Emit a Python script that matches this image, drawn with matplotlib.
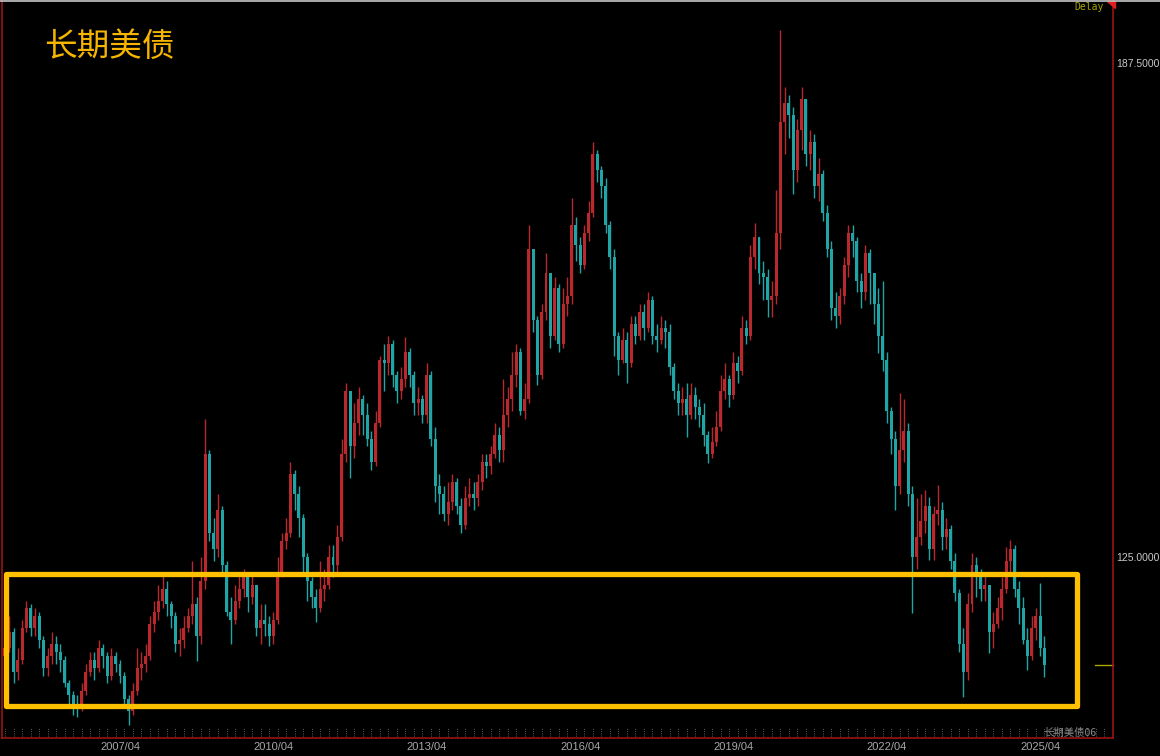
import matplotlib
matplotlib.use('Agg')
import matplotlib.pyplot as plt
import numpy as np
from matplotlib.patches import Rectangle, Polygon
from matplotlib.lines import Line2D
import matplotlib.transforms as mtransforms

plt.rcParams['font.family'] = ['Noto Sans CJK SC', 'DejaVu Sans']

# Monthly candles, 2005/01 .. 2025/05 (open = previous close)
first_open = 112.5
closes = [
    113.5, 115.5, 110.5, 112.0, 116.0, 118.5, 116.0, 117.5, 114.5, 111.0, 112.5, 114.0,  # 2005
    113.0, 112.0, 109.0, 107.5, 106.0, 105.8, 108.0, 110.5, 112.0, 111.0, 113.5, 112.5,  # 2006
    110.0, 112.5, 111.5, 110.0, 107.0, 105.5, 108.0, 111.0, 111.5, 112.5, 116.5, 118.0,  # 2007
    119.5, 121.0, 119.0, 117.5, 114.0, 114.5, 116.0, 117.5, 119.0, 115.0, 122.0, 138.0,  # 2008
    128.0, 126.0, 131.0, 124.0, 118.0, 117.0, 119.5, 121.0, 122.5, 120.0, 121.5, 116.0,  # 2009
    117.0, 116.5, 115.0, 117.0, 123.0, 127.0, 128.0, 135.5, 133.0, 130.0, 125.0, 122.0,  # 2010
    120.0, 118.5, 121.0, 121.5, 125.0, 124.0, 127.5, 138.0, 146.0, 139.0, 142.0, 145.0,  # 2011
    143.0, 140.0, 137.0, 142.0, 150.0, 149.5, 152.0, 148.0, 146.0, 147.5, 151.0, 148.0,  # 2012
    144.5, 145.0, 143.0, 148.0, 140.0, 134.0, 133.0, 130.5, 132.0, 134.5, 131.5, 129.0,  # 2013
    132.5, 133.0, 132.5, 134.5, 137.0, 136.5, 138.0, 140.5, 138.5, 143.0, 145.0, 148.0,  # 2014
    151.0, 143.5, 145.0, 164.0, 155.0, 148.0, 156.0, 161.0, 153.0, 159.0, 152.0, 157.0,  # 2015
    158.0, 167.0, 164.5, 162.0, 166.0, 168.5, 176.0, 174.0, 172.0, 167.0, 163.0, 153.0,  # 2016
    150.0, 152.5, 149.5, 154.5, 153.0, 156.0, 154.0, 157.5, 153.0, 152.5, 154.0, 153.5,  # 2017
    149.0, 146.0, 144.5, 145.0, 143.0, 145.5, 144.0, 143.0, 140.5, 138.0, 139.5, 141.5,  # 2018
    146.0, 147.5, 145.5, 149.5, 148.5, 154.0, 153.0, 163.0, 165.5, 161.0, 160.5, 157.5,  # 2019
    158.0, 166.0, 180.0, 182.5, 181.0, 174.0, 179.0, 183.0, 176.0, 177.5, 172.0, 173.5,  # 2020
    168.5, 164.0, 156.5, 155.5, 158.0, 162.0, 166.0, 165.0, 160.0, 158.5, 163.5, 161.0,  # 2021
    157.0, 153.0, 150.0, 143.5, 140.0, 134.0, 138.5, 141.0, 133.0, 125.0, 127.5, 129.5,  # 2022
    131.5, 126.0, 130.5, 131.0, 127.5, 128.5, 124.5, 120.5, 114.0, 110.5, 119.0, 124.0,  # 2023
    123.0, 121.0, 121.5, 115.5, 116.5, 118.5, 121.0, 124.5, 126.0, 121.0, 118.5, 114.5,  # 2024
    112.5, 116.0, 117.5, 113.5, 111.3,                                                  # 2025
]
highs = [
    115.0, 117.5, 116.0, 113.5, 117.0, 119.5, 119.0, 118.5, 118.0, 115.0, 113.5, 115.5,
    115.0, 114.0, 112.5, 109.5, 108.0, 107.5, 109.0, 111.5, 113.0, 113.0, 114.5, 114.0,
    113.0, 113.5, 113.0, 112.0, 110.5, 107.5, 109.0, 113.5, 113.0, 114.0, 117.5, 119.5,
    121.5, 123.0, 122.0, 119.5, 118.0, 116.0, 117.5, 118.5, 124.5, 120.0, 125.0, 142.5,
    138.5, 130.0, 133.0, 131.5, 124.5, 120.0, 121.5, 123.0, 123.5, 122.5, 123.0, 121.5,
    119.0, 119.0, 117.5, 118.0, 125.0, 128.0, 130.0, 137.0, 136.0, 134.0, 130.5, 125.5,
    122.5, 121.0, 124.5, 123.5, 126.5, 126.5, 129.0, 140.0, 147.0, 145.5, 144.5, 146.5,
    145.5, 144.5, 141.0, 143.5, 150.5, 152.0, 153.0, 152.5, 148.5, 149.0, 152.8, 151.5,
    148.5, 146.5, 145.5, 149.5, 148.5, 141.5, 135.5, 134.0, 134.5, 135.5, 135.0, 132.5,
    134.0, 135.0, 134.5, 135.5, 138.0, 138.0, 139.0, 142.0, 141.5, 147.5, 146.5, 151.0,
    152.0, 151.5, 147.0, 167.0, 163.0, 155.5, 157.0, 163.5, 161.0, 160.5, 159.5, 159.0,
    160.5, 170.5, 168.0, 165.5, 167.0, 170.0, 177.5, 176.5, 174.5, 173.0, 167.5, 164.0,
    153.5, 154.0, 153.5, 155.5, 155.5, 157.0, 157.0, 158.5, 158.0, 154.5, 155.5, 155.0,
    154.5, 149.5, 147.0, 146.5, 147.0, 147.0, 146.5, 145.0, 144.5, 141.0, 141.5, 143.5,
    148.0, 149.5, 148.0, 151.0, 150.5, 155.5, 155.0, 164.5, 167.3, 165.5, 162.5, 161.5,
    160.0, 171.5, 191.7, 184.5, 183.5, 182.0, 180.5, 184.5, 183.0, 179.0, 178.5, 175.5,
    174.0, 169.5, 165.0, 158.5, 159.0, 163.0, 167.0, 167.0, 165.5, 161.0, 164.5, 164.0,
    160.0, 159.0, 160.0, 151.0, 144.0, 141.0, 145.7, 145.0, 142.0, 134.0, 132.5, 133.0,
    133.5, 132.6, 131.5, 134.1, 132.0, 130.0, 129.0, 125.5, 121.0, 116.0, 120.5, 125.5,
    125.0, 123.5, 123.0, 121.5, 118.0, 120.0, 122.5, 126.3, 127.2, 126.5, 122.0, 120.0,
    116.0, 117.5, 118.5, 121.7, 115.0,
]
lows = [
    111.5, 113.0, 109.0, 109.5, 111.5, 115.5, 115.0, 115.0, 113.5, 110.0, 110.0, 111.5,
    111.5, 110.5, 108.5, 106.0, 105.0, 104.8, 105.5, 107.5, 110.0, 109.5, 110.5, 111.0,
    109.0, 109.5, 110.5, 109.0, 106.0, 103.8, 105.0, 107.5, 109.5, 110.5, 112.0, 115.5,
    117.0, 118.5, 117.5, 116.0, 113.0, 112.5, 113.5, 115.5, 116.5, 111.8, 114.0, 121.0,
    127.0, 124.5, 125.0, 123.0, 117.5, 114.0, 116.5, 118.5, 120.0, 118.0, 119.0, 115.0,
    114.0, 115.0, 113.8, 114.0, 116.5, 122.5, 126.0, 127.5, 131.0, 127.5, 123.0, 119.5,
    118.5, 116.8, 118.0, 119.5, 121.0, 122.5, 123.0, 127.0, 137.0, 135.0, 137.5, 140.5,
    140.5, 139.0, 136.0, 136.5, 141.5, 146.0, 148.0, 146.5, 144.5, 145.0, 146.5, 146.5,
    143.0, 143.0, 142.0, 142.0, 139.0, 132.0, 130.5, 129.5, 129.0, 131.0, 130.5, 128.0,
    128.5, 131.5, 131.0, 131.5, 133.5, 135.0, 135.5, 137.5, 137.0, 137.0, 141.5, 143.5,
    146.5, 143.0, 142.5, 144.5, 153.5, 146.8, 147.5, 155.0, 151.5, 152.5, 151.0, 151.5,
    155.5, 157.0, 162.5, 161.0, 161.5, 165.0, 168.0, 172.5, 170.5, 166.0, 161.5, 150.5,
    148.0, 149.5, 147.0, 149.0, 152.0, 152.5, 152.5, 153.5, 152.0, 151.0, 152.0, 151.5,
    148.0, 145.0, 143.0, 143.0, 140.2, 142.5, 142.5, 141.5, 139.0, 136.9, 137.5, 139.0,
    141.0, 145.0, 144.0, 145.0, 147.0, 148.0, 152.0, 152.5, 161.5, 159.5, 157.5, 155.4,
    155.4, 157.0, 164.0, 176.0, 178.0, 171.0, 172.5, 176.5, 174.5, 174.0, 170.5, 170.0,
    167.5, 163.0, 155.0, 154.0, 154.5, 157.0, 160.5, 163.0, 158.5, 156.5, 157.5, 157.0,
    154.5, 150.8, 148.5, 142.0, 138.0, 131.0, 133.0, 137.0, 131.5, 117.9, 123.5, 126.5,
    128.0, 124.6, 124.6, 129.0, 125.9, 126.0, 123.5, 119.5, 113.0, 107.3, 109.5, 118.0,
    120.0, 119.5, 119.5, 112.9, 113.5, 116.0, 117.0, 120.5, 123.0, 120.0, 116.5, 114.0,
    110.7, 112.0, 114.5, 112.5, 109.8,
]

tick_labels = ['2007/04', '2010/04', '2013/04', '2016/04', '2019/04', '2022/04', '2025/04']
price_ticks = [125.0, 187.5]
box_range = (106.2, 122.8)   # highlighted price band

W, H = 1160, 756
fig = plt.figure(figsize=(W / 100, H / 100), dpi=100, facecolor='black')
ax = fig.add_axes([2 / W, 18 / H, 1111 / W, 738 / H], facecolor='black')

closes = np.array(closes)
opens = np.concatenate([[first_open], closes[:-1]])
highs = np.maximum(np.array(highs), np.maximum(opens, closes))
lows = np.minimum(np.array(lows), np.minimum(opens, closes))
t = np.arange(len(closes))

red = '#b8282c'
teal = '#1fa5a5'
cols = [red if c >= o else teal for o, c in zip(opens, closes)]

ax.vlines(t, lows, highs, colors=cols, linewidth=1.0)
body_lo = np.minimum(opens, closes)
body_h = np.maximum(np.abs(closes - opens), 0.3)
ax.bar(t, body_h, bottom=body_lo, width=0.7, color=cols, linewidth=0)

ax.set_xlim(-0.7, 260.1)
ax.set_ylim(102.1, 195.5)

# x ticks from label text (months since 2005/01)
tick_pos = [(int(s[:4]) - 2005) * 12 + int(s[5:]) - 1 for s in tick_labels]
ax.set_xticks(tick_pos)
ax.set_xticklabels(tick_labels, color='#a8a8a8', fontsize=8, family=['Liberation Sans', 'DejaVu Sans'])
ax.tick_params(axis='x', length=0, pad=3)

ax.yaxis.tick_right()
ax.set_yticks(price_ticks)
ax.set_yticklabels(['%.4f' % p for p in price_ticks], color='#c8c8c8', fontsize=7.5,
                   family=['Liberation Sans', 'DejaVu Sans'])
ax.tick_params(axis='y', length=0, pad=2.5)

for side in ['left', 'right', 'bottom']:
    ax.spines[side].set_color('#9a1414')
    ax.spines[side].set_linewidth(1.2)
ax.spines['top'].set_visible(False)

# small dotted tick marks along the bottom, every 2 months
ax.vlines(np.arange(0, 260, 2), 102.35, 103.4, colors='#777777', linewidth=0.6, linestyles=':')

# highlight box
ax.add_patch(Rectangle((0.25, box_range[0]), 251.4, box_range[1] - box_range[0], fill=False,
                       edgecolor='#FFC000', linewidth=3.8, joinstyle='round', zorder=5))

# last price marker on the right axis
trans = mtransforms.blended_transform_factory(ax.transAxes, ax.transData)
ax.plot([0.984, 1.0], [closes[-1], closes[-1]], color='#a8a800', linewidth=1.0,
        transform=trans, clip_on=False)

# title and labels
fig.text(44 / W, 1 - 47 / H, '长期美债', color='#F7B500', fontsize=23.5, va='center', ha='left')
fig.text(1104 / W, 1 - 7 / H, 'Delay', color='#a8a800', fontsize=7, va='center', ha='right',
         family='DejaVu Sans Mono')
fig.text(1096 / W, 1 - 733 / H, '长期美债06', color='#8a8a8a', fontsize=7.5, va='center', ha='right')

# top border and red marker triangle
fig.add_artist(Line2D([0, 1], [1 - 0.8 / H, 1 - 0.8 / H], color='#c8c8c8', linewidth=1.2))
fig.add_artist(Polygon([[1107 / W, 1 - 1 / H], [1115 / W, 1 - 1 / H], [1115 / W, 1 - 8 / H]],
                       closed=True, color='#e02020'))

fig.savefig('out.png', dpi=100, facecolor='black')
